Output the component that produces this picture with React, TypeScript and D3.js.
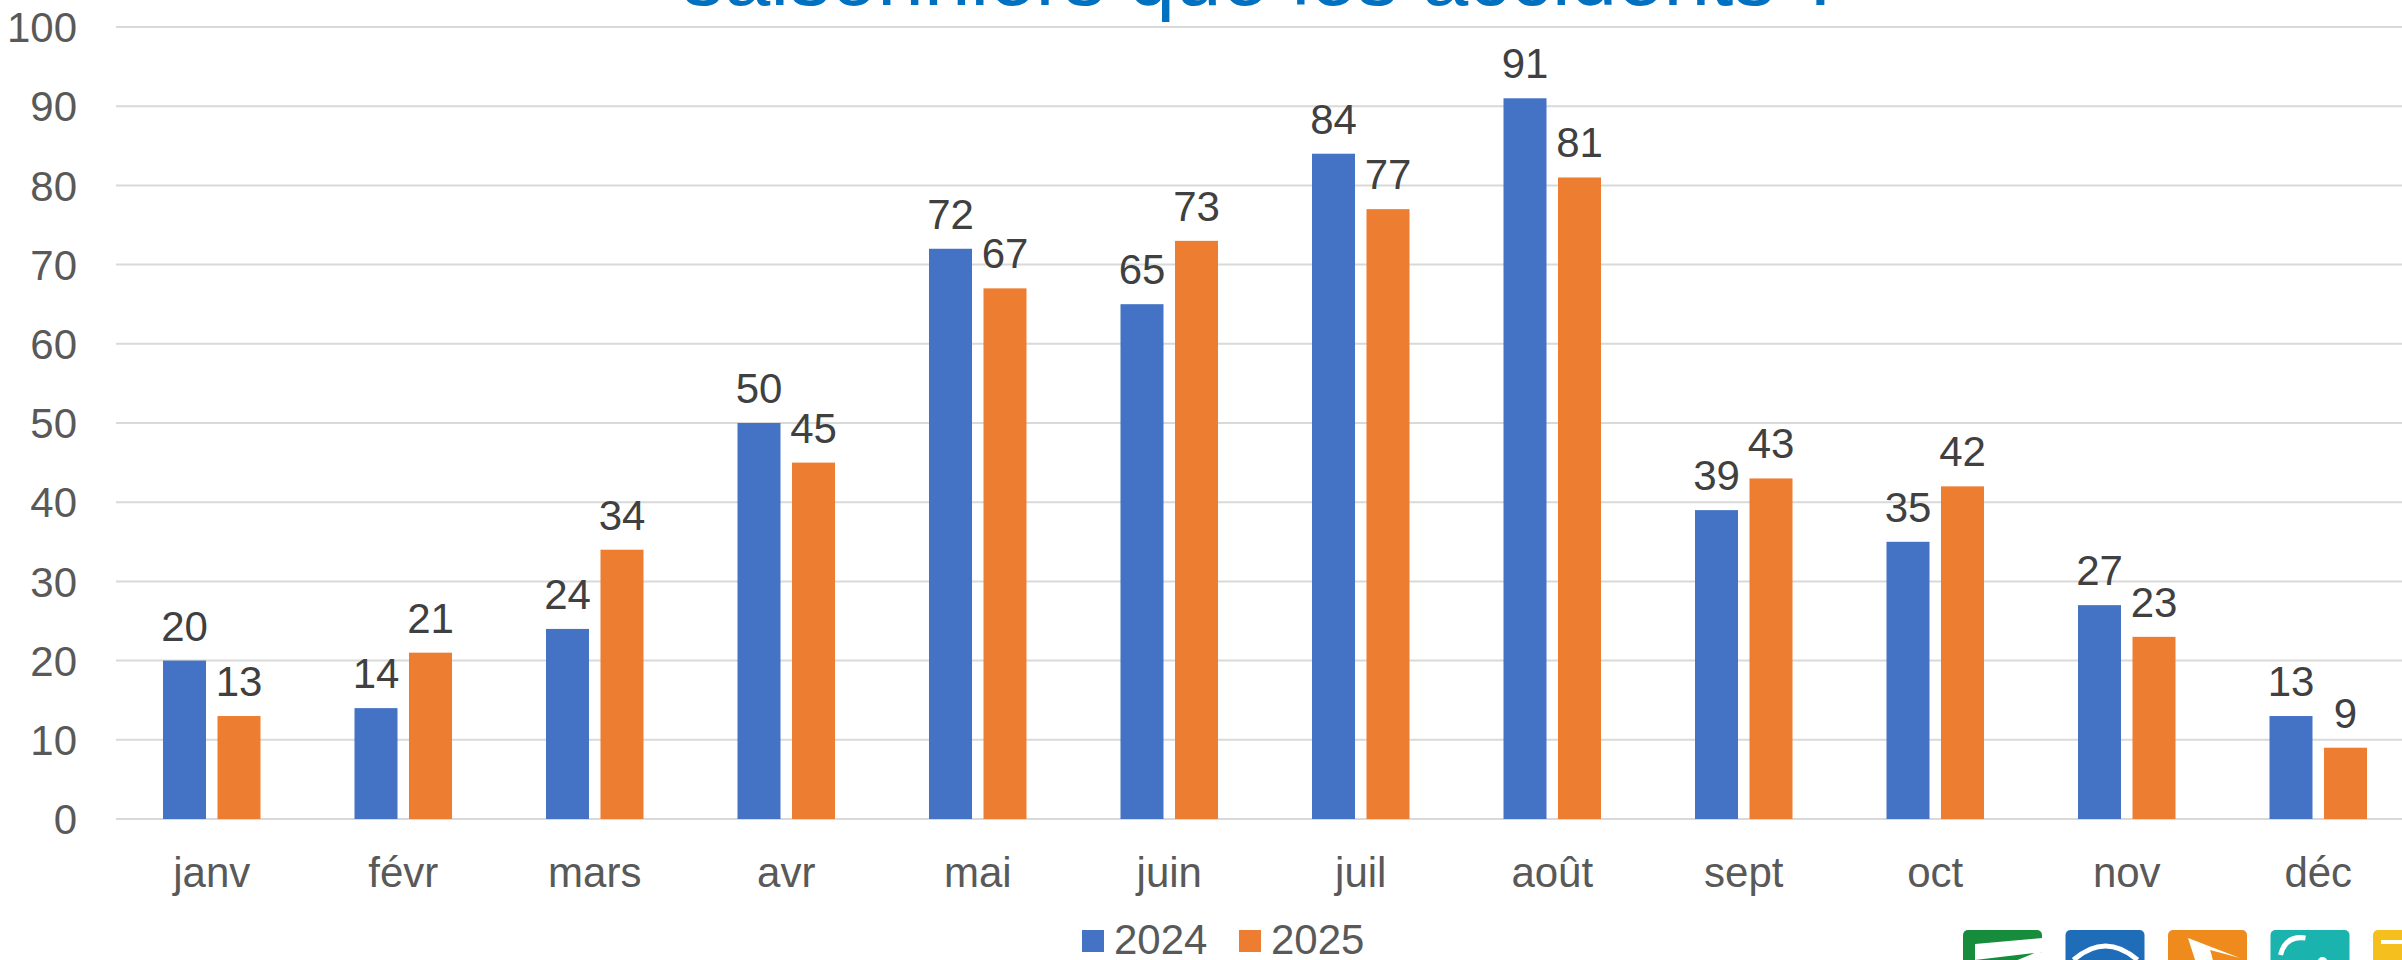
import React from "react";
import * as d3 from "d3";

const months = ["janv", "févr", "mars", "avr", "mai", "juin", "juil", "août", "sept", "oct", "nov", "déc"];
const series = ["2024", "2025"];
const values2024 = [20, 14, 24, 50, 72, 65, 84, 91, 39, 35, 27, 13];
const values2025 = [13, 21, 34, 45, 67, 73, 77, 81, 43, 42, 23, 9];
const yTicks = [0, 10, 20, 30, 40, 50, 60, 70, 80, 90, 100];
const colors = ["#4472C4", "#ED7D31"];
const titleText = "saisonniers que les accidents ?";
const logoColors = ["#178C3C", "#1F6DB9", "#EF8B1C", "#1AB3AE", "#F5C01E"];

const W = 2402;
const H = 960;
const FONT = "'Liberation Sans', Arial, sans-serif";

export default function App() {
  const x = d3.scaleBand<string>().domain(months).range([116, 2414]).paddingInner(0).paddingOuter(0);
  const groupW = 97.5;
  const xs = d3.scaleBand<string>().domain(series).range([0, groupW]).paddingInner(0.211).paddingOuter(0);
  const y = d3.scaleLinear().domain([0, 100]).range([819, 27]);
  const data = [values2024, values2025];

  return (
    <svg
      width={W}
      height={H}
      style={{ position: "absolute", left: 0, top: 0, display: "block", background: "#fff" }}
      fontFamily={FONT}
    >
      <rect x={0} y={0} width={W} height={H} fill="#fff" />
      {/* title (cut off) */}
      <text x={682} y={5} fontSize={83} fill="#0070C0" textLength={1163} lengthAdjust="spacingAndGlyphs">
        {titleText}
      </text>
      {/* gridlines */}
      {yTicks.map((t) => (
        <line key={t} x1={116} x2={W} y1={y(t)} y2={y(t)} stroke="#D9D9D9" strokeWidth={2} />
      ))}
      {/* y labels */}
      {yTicks.map((t) => (
        <text key={"l" + t} x={77} y={y(t)} dy="0.36em" textAnchor="end" fontSize={42} fill="#595959">
          {t}
        </text>
      ))}
      {/* bars */}
      {months.map((m, i) => {
        const cx = (x(m) as number) + x.bandwidth() / 2;
        const g0 = cx - groupW / 2;
        return (
          <g key={m}>
            {series.map((s, k) => {
              const v = data[k][i];
              const bx = g0 + (xs(s) as number);
              return (
                <g key={s}>
                  <rect x={bx} y={y(v)} width={xs.bandwidth()} height={y(0) - y(v)} fill={colors[k]} />
                  <text
                    x={bx + xs.bandwidth() / 2}
                    y={y(v) - 20}
                    textAnchor="middle"
                    fontSize={42}
                    fill="#404040"
                  >
                    {v}
                  </text>
                </g>
              );
            })}
            <text x={cx} y={887} textAnchor="middle" fontSize={42} fill="#595959">
              {m}
            </text>
          </g>
        );
      })}
      {/* legend */}
      <g>
        <rect x={1082} y={930} width={22} height={22} fill={colors[0]} />
        <text x={1114} y={954} fontSize={42} fill="#595959">{series[0]}</text>
        <rect x={1239} y={930} width={22} height={22} fill={colors[1]} />
        <text x={1271} y={954} fontSize={42} fill="#595959">{series[1]}</text>
      </g>
      {/* logos */}
      {logoColors.map((c, i) => {
        const lx = 1963 + i * 102.5;
        const ly = 930;
        return (
          <g key={c}>
            <rect x={lx} y={ly} width={79} height={70} rx={5} fill={c} />
            {i === 0 && <path d={`M${lx + 12},${ly + 30} L${lx + 12},${ly + 14} L${lx + 79},${ly + 8} L${lx + 79},${ly + 22} Z M${lx + 30},${ly + 40} L${lx + 79},${ly + 20} L${lx + 79},${ly + 40} Z`} fill="#fff" />}
            {i === 1 && <path d={`M${lx + 8},${ly + 30} Q${lx + 40},${ly + 2} ${lx + 72},${ly + 30}`} stroke="#fff" strokeWidth={5} fill="none" />}
            {i === 2 && <path d={`M${lx + 20},${ly + 8} L${lx + 72},${ly + 28} L${lx + 42},${ly + 20} Q${lx + 50},${ly + 40} ${lx + 40},${ly + 70} Z`} fill="#fff" />}
            {i === 3 && <path d={`M${lx + 10},${ly + 25} Q${lx + 15},${ly + 5} ${lx + 35},${ly + 8}`} stroke="#fff" strokeWidth={5} fill="none" />}
            {i === 3 && <circle cx={lx + 52} cy={ly + 32} r={5} fill="#fff" />}
            {i === 4 && <path d={`M${lx + 8},${ly + 12} L${lx + 30},${ly + 12}`} stroke="#fff" strokeWidth={4} />}
          </g>
        );
      })}
    </svg>
  );
}
